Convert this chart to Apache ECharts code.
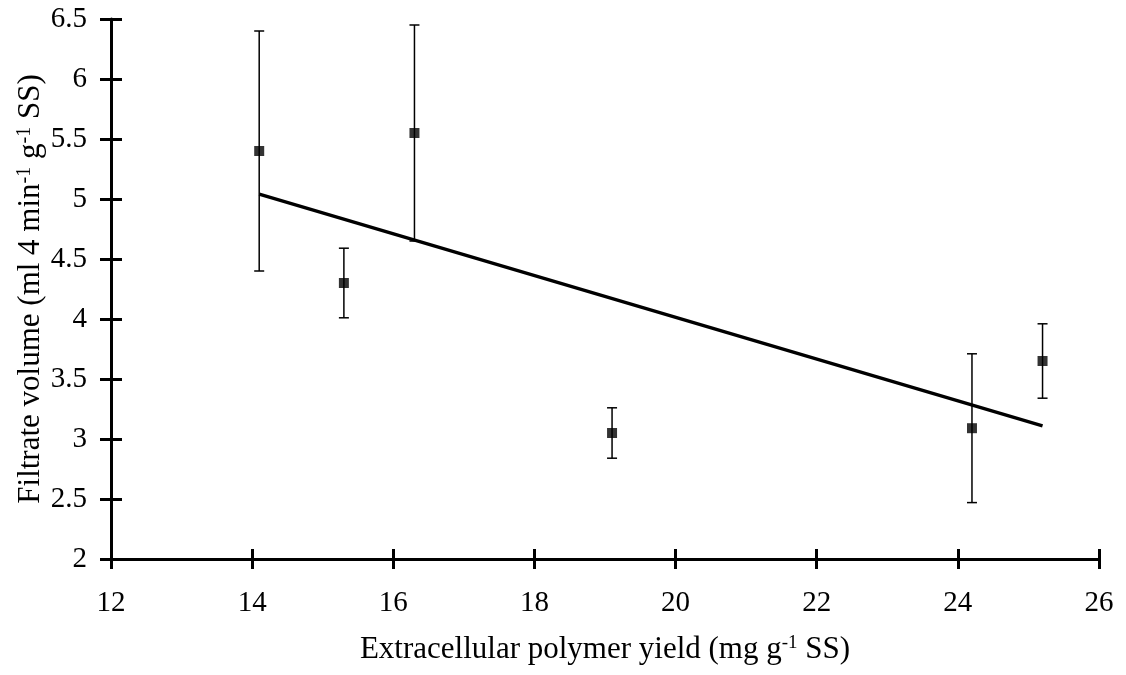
<!DOCTYPE html>
<html>
<head>
<meta charset="utf-8">
<script src="https://cdn.jsdelivr.net/npm/echarts@6/dist/echarts.min.js"></script>
<style>
  html, body { margin: 0; padding: 0; background: #fff; }
  #main { width: 1126px; height: 675px; }
</style>
</head>
<body>
<div id="main"></div>
<script>
// measured points (x = polymer yield, y = filtrate volume, err = +/- bar)
var xVals = [14.1, 15.3, 16.3, 19.1, 24.2, 25.2];
var yVals = [5.4, 4.3, 5.55, 3.05, 3.09, 3.65];
var errVals = [1.0, 0.29, 0.9, 0.21, 0.62, 0.31];

// fitted trend line end points
var trendX = [14.1, 25.2];
var trendY = [5.04, 3.11];

var font = "'Liberation Serif', 'Times New Roman', serif";

var points = xVals.map(function (x, i) { return [x, yVals[i]]; });
var bars = xVals.map(function (x, i) { return [x, yVals[i] - errVals[i], yVals[i] + errVals[i]]; });
var trend = trendX.map(function (x, i) { return [x, trendY[i]]; });

var chartDom = document.getElementById('main');
var myChart = echarts.init(chartDom);

var baseX = {
    type: 'value', min: 12, max: 26, interval: 2,
    splitLine: { show: false }
};
var baseY = {
    type: 'value', min: 2, max: 6.5, interval: 0.5,
    splitLine: { show: false }
};

var option = {
    animation: false,
    backgroundColor: '#fff',
    grid: { left: 111, right: 27, top: 19, bottom: 116 },
    xAxis: [
        Object.assign({}, baseX, {
            position: 'bottom',
            axisLine: { lineStyle: { color: '#000', width: 3 } },
            axisTick: { inside: false, length: 10, lineStyle: { color: '#000', width: 3 } },
            axisLabel: { color: '#000', fontSize: 29, fontFamily: font, margin: 30 },
            name: 'Extracellular polymer yield (mg g{sup|-1} SS)',
            nameLocation: 'middle',
            nameGap: 75,
            nameMoveOverlap: false,
            nameTextStyle: {
                color: '#000', fontSize: 31, fontFamily: font,
                rich: { sup: { fontSize: 19, fontFamily: font, color: '#000', verticalAlign: 'top' } }
            }
        }),
        Object.assign({}, baseX, {
            position: 'bottom',
            axisLine: { show: false },
            axisTick: { inside: true, length: 10, lineStyle: { color: '#000', width: 3 } },
            axisLabel: { show: false }
        })
    ],
    yAxis: [
        Object.assign({}, baseY, {
            position: 'left',
            axisLine: { lineStyle: { color: '#000', width: 3 } },
            axisTick: { inside: false, length: 11, lineStyle: { color: '#000', width: 3 } },
            axisLabel: { color: '#000', fontSize: 29, fontFamily: font, margin: 24 },
            name: 'Filtrate volume (ml 4 min{sup|-1} g{sup|-1} SS)',
            nameLocation: 'middle',
            nameGap: 65,
            nameMoveOverlap: false,
            nameTextStyle: {
                color: '#000', fontSize: 31, fontFamily: font,
                rich: { sup: { fontSize: 20, fontFamily: font, color: '#000', verticalAlign: 'top' } }
            }
        }),
        Object.assign({}, baseY, {
            position: 'left',
            axisLine: { show: false },
            axisTick: { inside: true, length: 11, lineStyle: { color: '#000', width: 3 } },
            axisLabel: { show: false }
        })
    ],
    series: [
        {
            type: 'line',
            data: trend,
            showSymbol: false,
            lineStyle: { color: '#000', width: 3.3 },
            z: 3
        },
        {
            type: 'custom',
            data: bars,
            renderItem: function (params, api) {
                var top = api.coord([api.value(0), api.value(2)]);
                var bot = api.coord([api.value(0), api.value(1)]);
                var cap = 5;
                var style = { stroke: '#000', lineWidth: 1.5 };
                return {
                    type: 'group',
                    children: [
                        { type: 'line', shape: { x1: top[0], y1: top[1], x2: bot[0], y2: bot[1] }, style: style },
                        { type: 'line', shape: { x1: top[0] - cap, y1: top[1], x2: top[0] + cap, y2: top[1] }, style: style },
                        { type: 'line', shape: { x1: bot[0] - cap, y1: bot[1], x2: bot[0] + cap, y2: bot[1] }, style: style }
                    ]
                };
            },
            z: 4
        },
        {
            type: 'scatter',
            data: points,
            symbol: 'rect',
            symbolSize: 10,
            itemStyle: { color: '#000' },
            z: 5
        }
    ]
};

myChart.setOption(option);
</script>
</body>
</html>
